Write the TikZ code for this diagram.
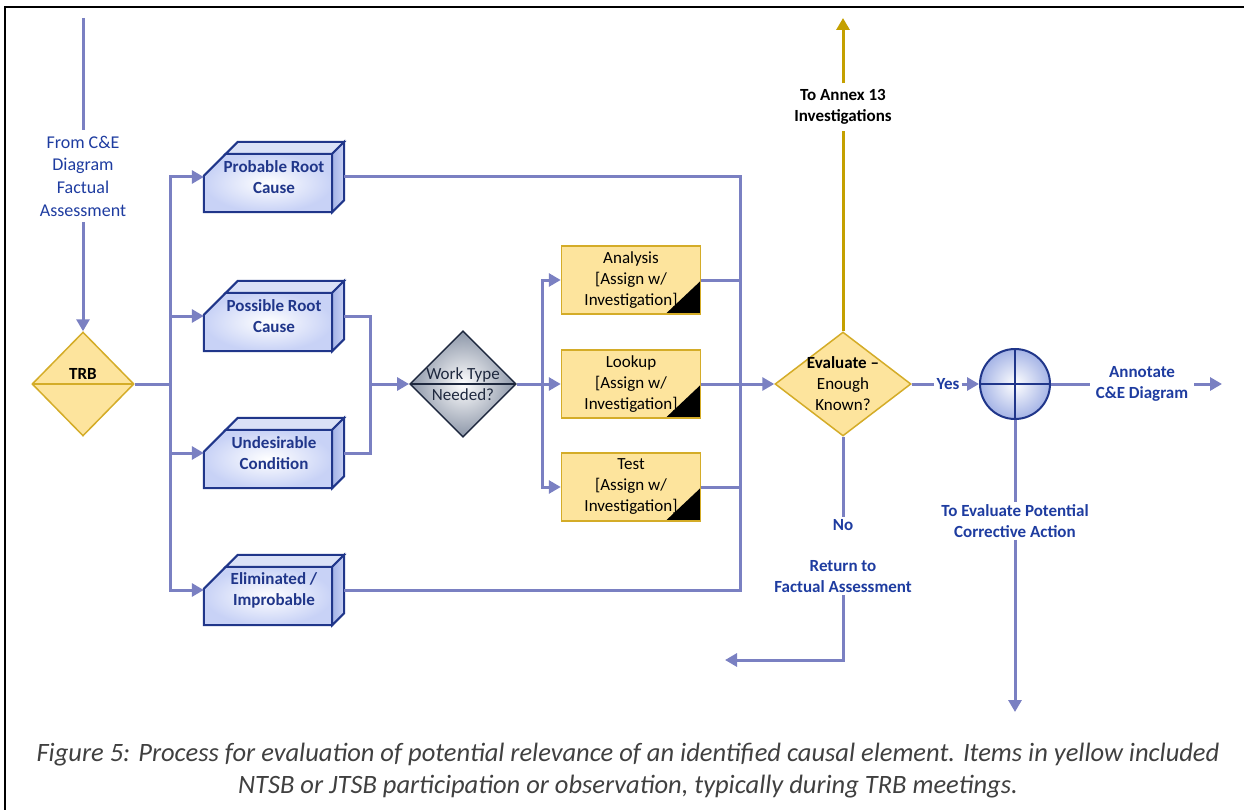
\documentclass[tikz,border=0pt]{standalone}
\usepackage{fontspec}
\setmainfont{Carlito}
\usetikzlibrary{arrows.meta,shapes.geometric,calc,backgrounds}

\definecolor{flowline}{RGB}{122,128,194}
\definecolor{labelblue}{RGB}{30,60,160}
\definecolor{cardblue}{RGB}{32,54,138}
\definecolor{cardfill}{RGB}{200,210,246}
\definecolor{cardtopfill}{RGB}{218,225,247}
\definecolor{cardsidefill}{RGB}{165,180,230}
\definecolor{taskfill}{RGB}{253,228,157}
\definecolor{taskline}{RGB}{212,172,40}
\definecolor{annexgold}{RGB}{196,160,0}
\definecolor{wtfill}{RGB}{140,150,168}
\definecolor{wtline}{RGB}{30,40,62}
\definecolor{capgray}{RGB}{64,64,64}

\tikzset{
	conn/.style={draw=flowline, line width=3pt},
	arr/.style={conn, -{Triangle[length=12pt,width=13pt]}},
	goldarr/.style={draw=annexgold, line width=3pt, -{Triangle[length=12pt,width=13pt]}},
	card/.style={minimum width=140pt, minimum height=70pt, inner sep=0pt, align=center,
		text=cardblue, font=\fontsize{17}{21}\selectfont\bfseries},
	cardface/.style={draw=cardblue, line width=2pt, inner color=white, outer color=cardfill},
	cardtop/.style={draw=cardblue, line width=2pt, fill=cardtopfill},
	cardside/.style={draw=cardblue, line width=2pt, left color=cardsidefill, right color=cardfill},
	task/.style={rectangle, draw=taskline, line width=1.5pt, fill=taskfill, minimum width=139pt,
		minimum height=68pt, inner sep=0pt, align=center,
		path picture={\fill[black] (path picture bounding box.south east) -- +(-35,0) -- +(0,-33) -- cycle;}},
	yellowdia/.style={diamond, draw=taskline, line width=1.5pt, fill=taskfill, inner sep=0pt, align=center},
	midline/.style={path picture={\draw[line width=1.5pt] (path picture bounding box.west) -- (path picture bounding box.east);}},
	label/.style={text=labelblue, font=\fontsize{17}{21}\selectfont\bfseries, align=center, inner sep=2pt},
}

\begin{document}
\begin{tikzpicture}[x=1pt,y=-1pt,font=\fontsize{17}{21}\selectfont]
	\useasboundingbox (0,0) rectangle (1244,810);
	\draw[line width=2.5pt] (5,810) -- (5,7) -- (1244,7);

	% junctions and free ends
	\coordinate (intop) at (83,18);
	\coordinate (lbus) at (170,384);
	\coordinate (mj) at (370,384);
	\coordinate (cbus) at (542,384);
	\coordinate (rbus) at (740,384);
	\coordinate (annextop) at (843,18);
	\coordinate (retend) at (725,660);
	\coordinate (annend) at (1222,384);
	\coordinate (corend) at (1015,712);

	% nodes
	\node[text=labelblue, align=center, font=\fontsize{18}{22.7}\selectfont, inner sep=6pt] (from) at (83,176) {From C\&E\\Diagram\\Factual\\Assessment};
	\node[yellowdia, midline, minimum width=102pt, minimum height=104pt, font=\fontsize{17}{21}\selectfont\bfseries] (trb) at (83,384) {TRB\\\mbox{}};

	\node[card] (prc) at (274,177) {Probable Root\\Cause};
	\node[card] (psc) at (274,316) {Possible Root\\Cause};
	\node[card] (udc) at (274,453) {Undesirable\\Condition};
	\node[card] (eli) at (274,590) {Eliminated /\\Improbable};

	\node[diamond, draw=wtline, line width=1.5pt, inner color=white, outer color=wtfill, midline,
		minimum width=102pt, minimum height=104pt, inner sep=0pt, align=center, text=wtline] (wt) at (463,384) {Work Type\\Needed?};

	\node[task] (ana) at (631,280) {Analysis\\{[Assign w/}\\Investigation]};
	\node[task] (lkp) at (631,384) {Lookup\\{[Assign w/}\\Investigation]};
	\node[task] (tst) at (631,487) {Test\\{[Assign w/}\\Investigation]};

	\node[yellowdia, minimum width=136pt, minimum height=104pt] (eval) at (843,384) {};
	\node[align=center] (evaltxt) at (843,384) {\textbf{Evaluate –}\\Enough\\Known?};
	\node[align=center, font=\fontsize{17}{21}\selectfont\bfseries, inner sep=6pt] (annex) at (843,107) {To Annex 13\\Investigations};
	\node[label] (no) at (843,525) {No};
	\node[label] (ret) at (843,577) {Return to\\Factual Assessment};
	\node[label] (yes) at (948,384) {Yes};
	\node[circle, draw=cardblue, line width=2pt, inner color=white, outer color=cardsidefill, minimum size=70pt,
		path picture={\draw[cardblue, line width=2pt] (path picture bounding box.north) -- (path picture bounding box.south)
			(path picture bounding box.west) -- (path picture bounding box.east);}] (circ) at (1015,384) {};
	\node[label, inner sep=6pt] (ann) at (1142,384) {Annotate\\C\&E Diagram};
	\node[label] (cor) at (1015,521) {To Evaluate Potential\\Corrective Action};

	\node[text=capgray, align=center, font=\fontsize{26.5}{32}\selectfont\itshape] (caption) at (628,771)
		{Figure 5: Process for evaluation of potential relevance of an identified causal element. Items in yellow included\\
		NTSB or JTSB participation or observation, typically during TRB meetings.};

	% 3d cards
	\begin{scope}[on background layer]
	\foreach \n in {prc,psc,udc,eli}{
		\draw[cardface] (\n.south west) -- ($(\n.north west)+(0,34)$) -- ($(\n.north west)+(22,12)$)
			-- ($(\n.north east)+(-12,12)$) -- ($(\n.south east)+(-12,0)$) -- cycle;
		\draw[cardtop] ($(\n.north west)+(22,12)$) -- ($(\n.north west)+(34,0)$) -- (\n.north east)
			-- ($(\n.north east)+(-12,12)$) -- cycle;
		\draw[cardside] ($(\n.north east)+(-12,12)$) -- (\n.north east) -- ($(\n.south east)+(0,-12)$)
			-- ($(\n.south east)+(-12,0)$) -- cycle;
	}
	\end{scope}

	% connectors
	\draw[conn] (intop) -- (from.north);
	\draw[arr] (from.south) -- (trb.north);
	\draw[conn] (trb.east) -- (lbus);
	\foreach \n in {prc,psc,udc,eli}
		\draw[arr] (lbus) |- (\n.west);
	\draw[conn] (psc.east) -| (mj);
	\draw[conn] (udc.east) -| (mj);
	\draw[arr] (mj) -- (wt.west);
	\draw[conn] (wt.east) -- (cbus);
	\foreach \n in {ana,lkp,tst}
		\draw[arr] (cbus) |- (\n.west);
	\foreach \n in {prc,eli,ana,tst}
		\draw[conn] (\n.east) -| (rbus);
	\draw[conn] (lkp.east) -- (rbus);
	\draw[arr] (rbus) -- (eval.west);

	\draw[draw=annexgold, line width=3pt] (eval.north) -- (annex.south);
	\draw[goldarr] (annex.north) -- (annextop);
	\draw[conn] (eval.south) -- (no.north);
	\draw[arr] (ret.south) |- (retend);
	\draw[conn] (eval.east) -- (yes.west);
	\draw[arr] (yes.east) -- (circ.west);
	\draw[conn] (circ.east) -- (ann.west);
	\draw[arr] (ann.east) -- (annend);
	\draw[conn] (circ.south) -- (cor.north);
	\draw[arr] (cor.south) -- (corend);
\end{tikzpicture}
\end{document}
